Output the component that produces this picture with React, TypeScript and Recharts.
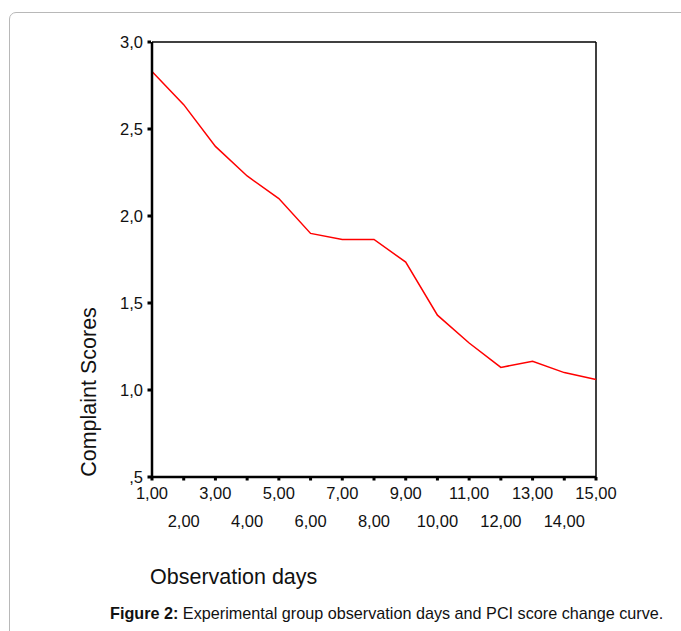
import React from 'react';
import { LineChart, Line, XAxis, YAxis, ReferenceLine } from 'recharts';

const days = [1, 2, 3, 4, 5, 6, 7, 8, 9, 10, 11, 12, 13, 14, 15];
const scores = [2.83, 2.64, 2.4, 2.23, 2.1, 1.9, 1.865, 1.865, 1.735, 1.43, 1.27, 1.13, 1.165, 1.1, 1.06];
const yTicks = [0.5, 1, 1.5, 2, 2.5, 3];
const yTickLabels = [',5', '1,0', '1,5', '2,0', '2,5', '3,0'];
const xTickLabels = ['1,00', '2,00', '3,00', '4,00', '5,00', '6,00', '7,00', '8,00', '9,00', '10,00', '11,00', '12,00', '13,00', '14,00', '15,00'];

const data = days.map((d, i) => ({ day: d, score: scores[i] }));

const FONT = '"Liberation Sans", Arial, sans-serif';

const XTick = (props: any) => {
  const { x, y, payload } = props;
  const idx = days.indexOf(payload.value);
  const row2 = idx % 2 === 1;
  return (
    <g>
      <rect x={x - 1.5} y={y} width={3} height={3.5} fill="#000" />
      <text x={x} y={y + (row2 ? 50 : 22)} textAnchor="middle" fontSize={16.5} fontFamily={FONT} fill="#111">
        {xTickLabels[idx]}
      </text>
    </g>
  );
};

const YTick = (props: any) => {
  const { x, y, payload } = props;
  const idx = yTicks.indexOf(payload.value);
  return (
    <g>
      <rect x={x - 4.5} y={y - 1.5} width={3.5} height={3} fill="#000" />
      <text x={x - 9} y={y + 6} textAnchor="end" fontSize={16.5} fontFamily={FONT} fill="#111">
        {yTickLabels[idx]}
      </text>
    </g>
  );
};

export default function App() {
  return (
    <div style={{ position: 'absolute', left: 0, top: 0, width: 681, height: 631, overflow: 'hidden', background: '#fff' }}>
      <div
        style={{
          position: 'absolute',
          left: 9,
          top: 12,
          width: 720,
          height: 680,
          border: '1px solid #b8b8b8',
          borderRadius: 7,
          boxSizing: 'border-box',
        }}
      />
      <div style={{ position: 'absolute', left: 0, top: 0 }}>
        <LineChart width={681} height={631} data={data} margin={{ top: 42, right: 85, bottom: 0, left: 0 }}>
          <XAxis
            dataKey="day"
            type="number"
            domain={[1, 15]}
            ticks={days}
            tickSize={0}
            tickMargin={0}
            tickLine={false}
            tick={<XTick />}
            axisLine={{ stroke: '#000', strokeWidth: 2.5 }}
            height={154}
            interval={0}
            label={{
              content: () => (
                <text x={150} y={584} fontSize={21.5} fontFamily={FONT} fill="#111">
                  Observation days
                </text>
              ),
            }}
          />
          <YAxis
            type="number"
            domain={[0.5, 3]}
            ticks={yTicks}
            tickSize={0}
            tickMargin={0}
            tickLine={false}
            tick={<YTick />}
            axisLine={{ stroke: '#000', strokeWidth: 2.5 }}
            width={152}
            interval={0}
            label={{
              content: () => (
                <text
                  x={96}
                  y={392}
                  transform="rotate(-90 96 392)"
                  textAnchor="middle"
                  fontSize={21.5}
                  fontFamily={FONT}
                  fill="#111"
                >
                  Complaint Scores
                </text>
              ),
            }}
          />
          <ReferenceLine y={3} stroke="#000" strokeWidth={1.3} ifOverflow="visible" />
          <ReferenceLine x={15} stroke="#000" strokeWidth={1.5} ifOverflow="visible" />
          <Line
            type="linear"
            dataKey="score"
            stroke="#ff0000"
            strokeWidth={1.5}
            dot={false}
            activeDot={false}
            isAnimationActive={false}
          />
        </LineChart>
      </div>
      <div
        style={{
          position: 'absolute',
          left: 110,
          top: 603,
          fontFamily: FONT,
          fontSize: 16.2,
          color: '#111',
          whiteSpace: 'nowrap',
          lineHeight: '20px',
        }}
      >
        <b>Figure 2:</b> Experimental group observation days and PCI score change curve.
      </div>
    </div>
  );
}
